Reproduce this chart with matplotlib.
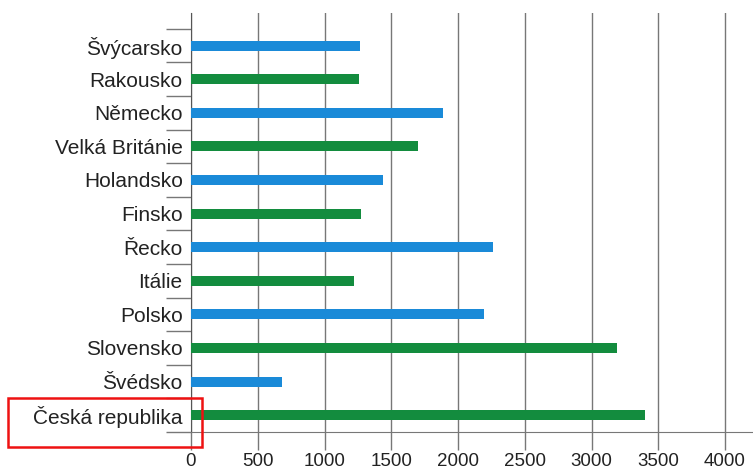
import matplotlib.pyplot as plt
import matplotlib.patches as patches
import numpy as np

# countries listed from bottom to top
countries = ['Česká republika', 'Švédsko', 'Slovensko', 'Polsko', 'Itálie', 'Řecko',
             'Finsko', 'Holandsko', 'Velká Británie', 'Německo', 'Rakousko', 'Švýcarsko']
values = [3398, 682, 3194, 2195, 1221, 2265, 1273, 1436, 1698, 1885, 1258, 1266]
bar_colors = ['#138c3e', '#1a8ad8'] * 6
xticks = [0, 500, 1000, 1500, 2000, 2500, 3000, 3500, 4000]

plt.rcParams['font.family'] = ['Liberation Sans', 'DejaVu Sans']

fig = plt.figure(figsize=(7.53, 4.72), dpi=100)
ax = fig.add_axes([191 / 753, 40 / 472, 1 - 191 / 753, (432 - 13) / 472])

y = np.arange(len(countries))
ax.barh(y, values, height=0.3, color=bar_colors, zorder=3)

ax.set_xlim(0, (753 - 191) / 0.1335)
ax.set_ylim(-0.5, 11.97)

ax.set_xticks(xticks)
ax.set_xticklabels([str(t) for t in xticks], fontsize=13.5, color='#222222')
ax.tick_params(axis='x', length=13, width=1, color='#777777', pad=2)
ax.grid(axis='x', color='#777777', linewidth=1, zorder=0)

ax.set_yticks(y)
ax.set_yticklabels(countries, fontsize=15, color='#222222')
ax.tick_params(axis='y', which='major', length=0, pad=6)
ax.set_yticks(np.arange(-0.5, 11.6, 1), minor=True)
ax.tick_params(axis='y', which='minor', length=18, width=1, color='#777777')

for s in ['top', 'right']:
    ax.spines[s].set_visible(False)
ax.spines['left'].set_color('#555555')
ax.spines['bottom'].set_color('#777777')

# red frame round the Czech label
fig.patches.append(patches.Rectangle((8 / 753, 1 - 447 / 472), 194 / 753, 49 / 472,
                                     transform=fig.transFigure, fill=False,
                                     edgecolor='#ee1111', linewidth=1.8))

fig.savefig('out.png', dpi=100)
